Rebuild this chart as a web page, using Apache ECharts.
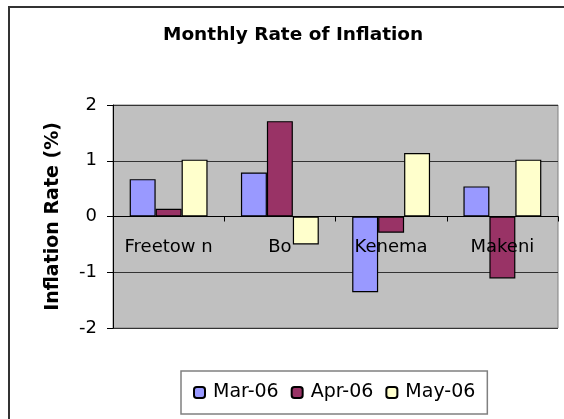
<!DOCTYPE html>
<html>
<head>
<meta charset="utf-8">
<script src="https://cdn.jsdelivr.net/npm/echarts@6/dist/echarts.min.js"></script>
<style>
  html, body { margin: 0; padding: 0; background: #fff; }
  #chart { width: 564px; height: 419px; }
</style>
</head>
<body>
<div id="chart"></div>
<script>
const cities = ['Freetow n', 'Bo', 'Kenema', 'Makeni']
const mar06 = [0.67, 0.79, -1.36, 0.54]
const apr06 = [0.14, 1.71, -0.29, -1.11]
const may06 = [1.02, -0.50, 1.14, 1.02]
const yTicks = [-2, -1, 0, 1, 2]

const font = 'DejaVu Sans'
const chart = echarts.init(document.getElementById('chart'))

const barStyle = (color) => ({
  color: color,
  borderColor: '#000',
  borderWidth: 1.2
})

const option = {
  animation: false,
  textStyle: { fontFamily: font },
  graphic: [
    {
      type: 'rect',
      shape: { x: 9, y: 7, width: 700, height: 600 },
      style: { fill: 'none', stroke: '#333', lineWidth: 2 },
      silent: true
    }
  ],
  title: {
    text: 'Monthly Rate of Inflation',
    left: 163,
    top: 26,
    padding: 0,
    textStyle: { fontFamily: font, fontSize: 18.5, fontWeight: 'bold', color: '#000' }
  },
  grid: {
    left: 113,
    right: 6,
    top: 105,
    bottom: 91,
    show: true,
    backgroundColor: '#c0c0c0',
    borderColor: '#808080',
    borderWidth: 1
  },
  legend: {
    left: 181,
    top: 371,
    padding: [12, 12],
    itemGap: 12,
    itemWidth: 11,
    itemHeight: 11,
    borderColor: '#808080',
    borderWidth: 1.5,
    textStyle: { fontFamily: font, fontSize: 19, color: '#000', padding: [0, 0, 0, 3] }
  },
  xAxis: {
    type: 'category',
    data: cities,
    z: 5,
    // labels sit just under the zero line, as in the original sheet
    offset: -111.5,
    axisLine: { onZero: false, lineStyle: { color: '#000', width: 1 } },
    axisTick: { show: true, length: 5, lineStyle: { color: '#000' } },
    axisLabel: { interval: 0, margin: 22, fontFamily: font, fontSize: 18, color: '#000' },
    splitLine: { show: false }
  },
  yAxis: {
    type: 'value',
    min: yTicks[0],
    max: yTicks[yTicks.length - 1],
    interval: 1,
    name: 'Inflation Rate (%)',
    nameLocation: 'middle',
    nameRotate: 90,
    nameGap: 50,
    nameTextStyle: { fontFamily: font, fontSize: 19, fontWeight: 'bold', color: '#000' },
    axisLine: { show: true, lineStyle: { color: '#000', width: 1 } },
    axisTick: { show: true, length: 6, lineStyle: { color: '#000' } },
    axisLabel: { margin: 16, fontFamily: font, fontSize: 18, color: '#000' },
    splitLine: { show: true, lineStyle: { color: '#333', width: 1 } }
  },
  series: [
    { name: 'Mar-06', type: 'bar', data: mar06, barGap: 0, barCategoryGap: '30%', itemStyle: barStyle('#9999ff') },
    { name: 'Apr-06', type: 'bar', data: apr06, barGap: 0, barCategoryGap: '30%', itemStyle: barStyle('#993366') },
    { name: 'May-06', type: 'bar', data: may06, barGap: 0, barCategoryGap: '30%', itemStyle: barStyle('#ffffcc') }
  ]
}

chart.setOption(option)
window.addEventListener('resize', () => chart.resize())
</script>
</body>
</html>
